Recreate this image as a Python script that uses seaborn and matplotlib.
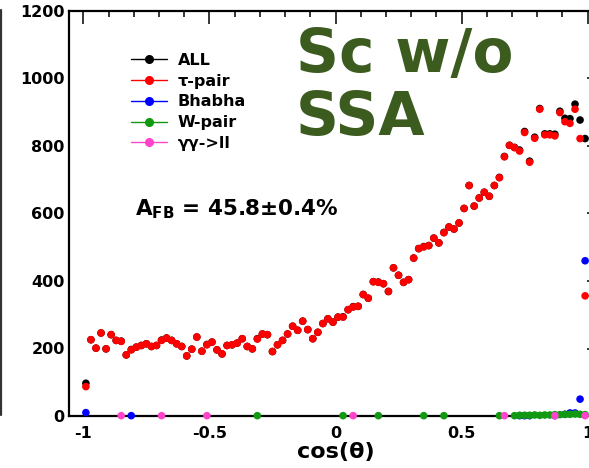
import numpy as np
import pandas as pd
import matplotlib
matplotlib.use("Agg")
import matplotlib.pyplot as plt
import seaborn as sns
from matplotlib.lines import Line2D
from matplotlib.ticker import MultipleLocator

# ---------------- data ----------------
# 100 bins in cos(theta), width 0.02
cos_bins = np.round(np.arange(-0.99, 1.0, 0.02), 2)

tau_pair = [
    87, 226, 201, 246, 199, 241, 224, 221, 181, 196,
    204, 209, 214, 206, 209, 224, 231, 224, 214, 206,
    178, 198, 234, 192, 211, 219, 196, 184, 209, 211,
    216, 229, 206, 199, 228, 243, 241, 191, 211, 224,
    243, 266, 254, 281, 256, 229, 248, 274, 288, 278,
    293, 293, 315, 323, 325, 360, 349, 398, 396, 392,
    369, 439, 417, 396, 404, 468, 496, 501, 505, 527,
    513, 543, 560, 554, 572, 615, 683, 622, 646, 663,
    651, 683, 706, 768, 802, 795, 785, 840, 752, 823,
    909, 833, 833, 830, 899, 872, 867, 909, 822, 356,
]

all_events = [
    97, 226, 201, 246, 199, 241, 224, 222, 181, 197,
    204, 209, 214, 206, 209, 225, 231, 224, 214, 206,
    178, 198, 234, 192, 212, 219, 196, 184, 209, 211,
    216, 229, 206, 199, 229, 243, 241, 191, 211, 224,
    243, 266, 254, 281, 256, 229, 248, 274, 288, 278,
    293, 294, 315, 324, 325, 360, 349, 398, 397, 392,
    369, 439, 417, 396, 404, 468, 496, 502, 505, 527,
    513, 544, 560, 554, 572, 615, 683, 622, 646, 663,
    651, 683, 707, 769, 802, 796, 788, 843, 755, 826,
    911, 836, 836, 835, 903, 882, 881, 924, 877, 822,
]

bhabha_x = [-0.99, -0.81, 0.73, 0.75, 0.77, 0.87, 0.91, 0.93, 0.95, 0.97, 0.99]
bhabha_y = [10, 1, 1, 1, 1, 1, 5, 9, 9, 50, 460]

wpair_x = [-0.31, 0.03, 0.17, 0.35, 0.43, 0.65, 0.71, 0.73, 0.75, 0.77, 0.79,
           0.81, 0.83, 0.85, 0.87, 0.89, 0.91, 0.93, 0.95, 0.97, 0.99]
wpair_y = [1, 1, 1, 1, 1, 1, 1, 2, 2, 2, 3, 2, 3, 3, 4, 4, 5, 5, 6, 5, 4]

gg_x = [-0.85, -0.69, -0.51, 0.07, 0.67, 0.87, 0.99]
gg_y = [1, 1, 1, 1, 1, 1, 1]

series_names = ["ALL", "\u03c4-pair", "Bhabha", "W-pair", "\u03b3\u03b3->ll"]
series_colors = ["#000000", "#ff0000", "#0000ff", "#119911", "#ff44cc"]

# ---------------- style ----------------
sns.set_theme(style="white")
plt.rcParams["font.family"] = ["DejaVu Sans"]
plt.rcParams["font.weight"] = "bold"
plt.rcParams["text.color"] = "black"
plt.rcParams["axes.labelcolor"] = "black"
plt.rcParams["xtick.color"] = "black"
plt.rcParams["ytick.color"] = "black"
plt.rcParams["mathtext.fontset"] = "custom"
plt.rcParams["mathtext.rm"] = "DejaVu Sans:bold"
plt.rcParams["mathtext.bf"] = "DejaVu Sans:bold"

df = pd.concat([
    pd.DataFrame({"x": cos_bins, "y": all_events, "s": series_names[0]}),
    pd.DataFrame({"x": cos_bins, "y": tau_pair, "s": series_names[1]}),
    pd.DataFrame({"x": bhabha_x, "y": bhabha_y, "s": series_names[2]}),
    pd.DataFrame({"x": wpair_x, "y": wpair_y, "s": series_names[3]}),
    pd.DataFrame({"x": gg_x, "y": gg_y, "s": series_names[4]}),
], ignore_index=True)

W, H = 589, 468
fig = plt.figure(figsize=(W / 100, H / 100), dpi=100)
# the frame extends past the right edge of the picture (cropped pad)
ax = fig.add_axes([69 / W, (H - 416) / H, (602 - 69) / W, (416 - 11) / H])

sns.scatterplot(data=df, x="x", y="y", hue="s", hue_order=series_names,
                palette=series_colors, s=30, linewidth=0, legend=False,
                clip_on=False, zorder=3, ax=ax)

ax.set_xlim(-1.057, 1.057)
ax.set_ylim(0, 1200)
ax.xaxis.set_major_locator(MultipleLocator(0.5))
ax.xaxis.set_minor_locator(MultipleLocator(0.1))
ax.yaxis.set_major_locator(MultipleLocator(200))
ax.yaxis.set_minor_locator(MultipleLocator(50))
ax.xaxis.set_major_formatter(matplotlib.ticker.FuncFormatter(
    lambda v, p: ("%g" % v) if abs(v) > 1e-9 else "0"))

for sp in ax.spines.values():
    sp.set_linewidth(1.6)
    sp.set_color("black")

ax.tick_params(axis="both", which="both", direction="in", top=True, right=True,
               colors="black", width=1.1)
ax.tick_params(axis="y", which="major", length=11, pad=3, labelsize=11.5)
ax.tick_params(axis="y", which="minor", length=6)
ax.tick_params(axis="x", which="major", length=9.5, pad=7, labelsize=11.5)
ax.tick_params(axis="x", which="minor", length=4.5)
for lab in ax.get_xticklabels() + ax.get_yticklabels():
    lab.set_fontweight("bold")

ax.set_xlabel("cos(\u03b8)", fontsize=16, fontweight="bold")
ax.xaxis.set_label_coords((335.7 - 69) / (602 - 69), -0.065)
ax.set_ylabel("")

# legend
handles = [Line2D([], [], color=c, marker="o", markersize=5.5, lw=1)
           for c in series_colors]
leg = ax.legend(handles, series_names, loc="upper left",
                bbox_to_anchor=((131 - 69) / (602 - 69), (416 - 53) / 405),
                frameon=False, borderpad=0, borderaxespad=0,
                handlelength=2.25, handletextpad=0.69, labelspacing=0.36,
                prop={"size": 11.5, "weight": "bold"})

# annotations
fig.text(135 / W, 1 - 215 / H, r"$\mathbf{A_{FB}}$ = 45.8$\pm$0.4%",
         fontsize=15.5, fontweight="bold", va="baseline", ha="left")
fig.text(296 / W, 1 - 72 / H, "Sc w/o", fontsize=43, fontweight="bold",
         color="#3b5b1f", va="baseline", ha="left")
fig.text(296 / W, 1 - 135 / H, "SSA", fontsize=43, fontweight="bold",
         color="#3b5b1f", va="baseline", ha="left")

# partial frame edge of neighbouring pad at left
fig.add_artist(Line2D([1.2 / W, 1.2 / W], [1 - 10 / H, 1 - 415 / H],
                      transform=fig.transFigure, color="#333333", lw=1.6))

fig.savefig("out.png", dpi=100)
